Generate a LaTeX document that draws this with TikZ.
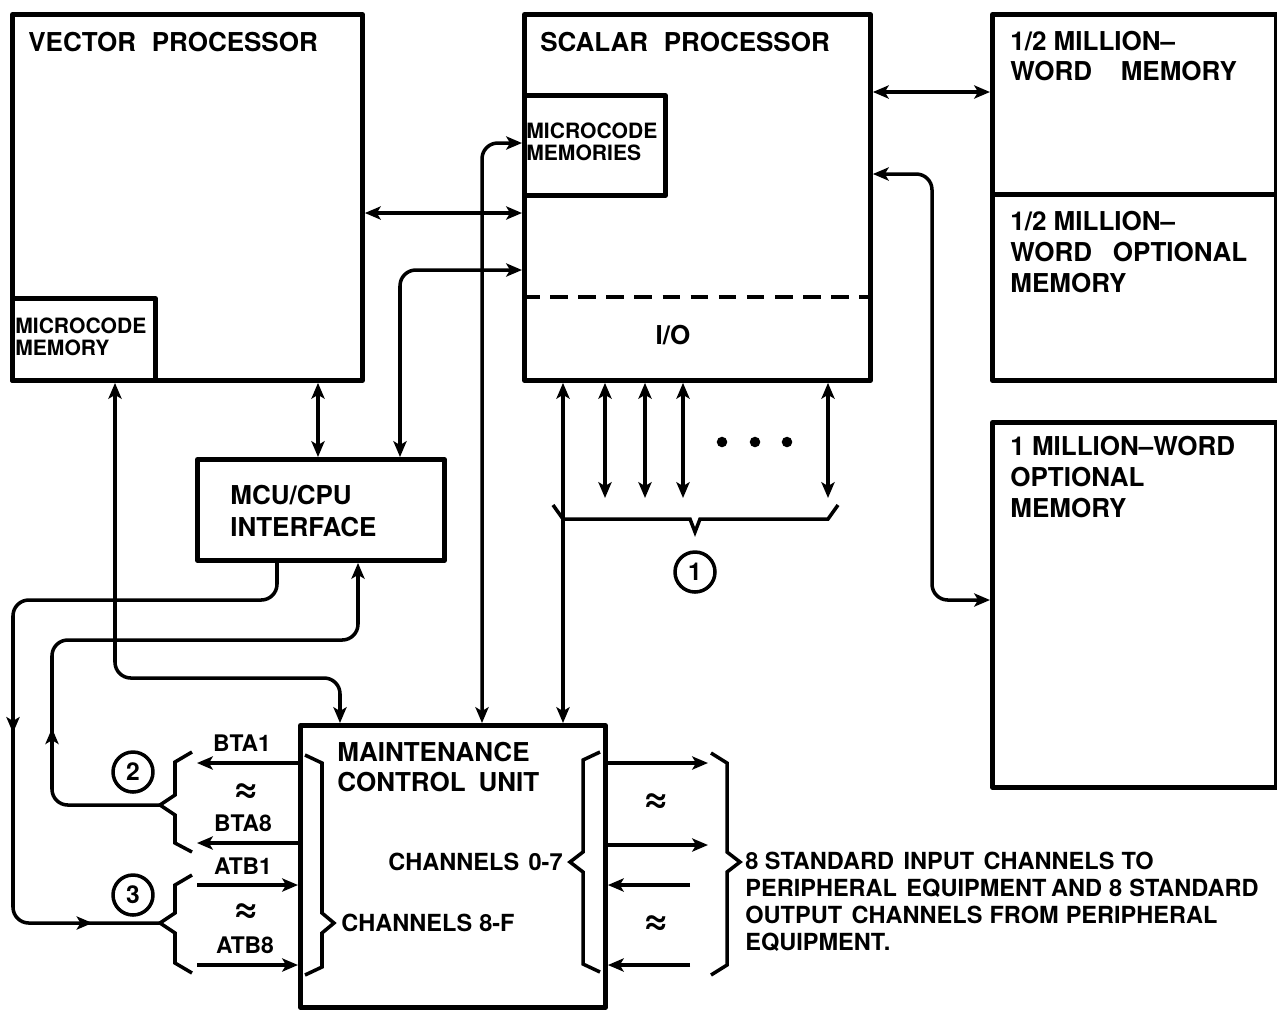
\documentclass[tikz,border=0pt]{standalone}
\usepackage{fontspec}
\setmainfont{TeX Gyre Heros}
\usepackage{tikz}
\usetikzlibrary{arrows.meta,decorations.markings}

\begin{document}
\begin{tikzpicture}[x=0.02cm,y=-0.02cm,>={Stealth[length=9pt,width=7.5pt,inset=2.2pt]},line join=round]
\tikzset{box/.style={draw,line width=2.8pt,anchor=north west,inner sep=0pt},
  big/.style={font=\fontsize{14.8}{17.5}\selectfont\bfseries,align=left,inner sep=0pt},
  small/.style={font=\fontsize{12}{12.5}\selectfont\bfseries,align=left,inner sep=0pt},
  chan/.style={font=\fontsize{13.4}{15.3}\selectfont\bfseries,align=left,inner sep=0pt},
  sig/.style={font=\fontsize{13}{15}\selectfont\bfseries,inner sep=0pt},
  apx/.style={font=\fontsize{24}{24}\selectfont\bfseries,inner sep=0pt},
  wire/.style={line width=2pt},
  brc/.style={line width=2pt,line join=miter},
  num/.style={draw,circle,line width=2pt,minimum size=0.8cm,inner sep=0pt,font=\fontsize{14}{15}\selectfont\bfseries},
  midarr/.style={postaction={decorate,decoration={markings,mark=at position #1 with {\arrow{>}}}}}}
\useasboundingbox (0,0) rectangle (1277,1009);

% processors and memories
\node[box,minimum width=7cm,minimum height=7.32cm] (vp) at (10,12) {};
\node[box,minimum width=2.86cm,minimum height=1.64cm] (vpmc) at (10,296) {};
\node[box,minimum width=6.92cm,minimum height=7.32cm] (sp) at (522,12) {};
\node[box,minimum width=2.82cm,minimum height=2cm] (spmc) at (522,93) {};
\node[box,minimum width=5.68cm,minimum height=3.6cm] (memA) at (990,12) {};
\node[box,minimum width=5.68cm,minimum height=3.72cm] (memB) at (990,192) {};
\node[box,minimum width=5.68cm,minimum height=7.3cm] (memC) at (990,420) {};
\node[box,minimum width=4.94cm,minimum height=2.02cm] (ifc) at (195,457) {};
\node[box,minimum width=6.1cm,minimum height=5.64cm] (mcu) at (298,723) {};
\draw[line width=2pt,dash pattern=on 10pt off 6pt] (sp.west |- 0,297) -- (sp.east |- 0,297);

% texts
\node[big,anchor=west] (vpt) at (28,42) {VECTOR\hspace{0.6em}PROCESSOR};
\node[small,anchor=west] (vpmct) at (15,337) {MICROCODE\\MEMORY};
\node[big,anchor=west] (spt) at (540,42) {SCALAR\hspace{0.6em}PROCESSOR};
\node[small,anchor=west] (spmct) at (526,142) {MICROCODE\\MEMORIES};
\node[big] (iot) at (673,335) {I/O};
\node[big,anchor=west] (memAt) at (1010,56) {1/2 MILLION--\\WORD\hspace{1.1em}MEMORY};
\node[big,anchor=west] (memBt) at (1010,252) {1/2 MILLION--\\WORD\hspace{0.8em}OPTIONAL\\MEMORY};
\node[big,anchor=west] (memCt) at (1010,477) {1 MILLION--WORD\\OPTIONAL\\MEMORY};
\node[big,anchor=west,font=\fontsize{14.8}{18}\selectfont\bfseries] (ifct) at (230,511) {MCU/CPU\\ INTERFACE};
\node[big,anchor=west,font=\fontsize{14.8}{17}\selectfont\bfseries] (mcut) at (337,767) {MAINTENANCE\\CONTROL\hspace{0.5em}UNIT};
\node[chan,anchor=east] (ch07) at (563,862) {CHANNELS\hspace{0.4em}0-7};
\node[chan,anchor=west] (ch8f) at (341,923) {CHANNELS\hspace{0.3em}8-F};
\node[chan,anchor=west] (note) at (745,902)
  {8 STANDARD\hspace{0.4em}INPUT\hspace{0.4em}CHANNELS\hspace{0.3em}TO\\PERIPHERAL\hspace{0.4em}EQUIPMENT\hspace{0.2em}AND\hspace{0.3em}8\hspace{0.3em}STANDARD\\OUTPUT\hspace{0.4em}CHANNELS\hspace{0.3em}FROM\hspace{0.3em}PERIPHERAL\\EQUIPMENT.};
\node[sig] (bta1) at (242,743) {BTA1};
\node[apx] (apx1) at (245,793) {≈};
\node[sig] (bta8) at (243,823) {BTA8};
\node[sig] (atb1) at (243,866) {ATB1};
\node[apx] (apx2) at (245,913) {≈};
\node[sig] (atb8) at (245,945) {ATB8};
\node[apx] (apx3) at (655,803) {≈};
\node[apx] (apx4) at (655,925) {≈};
\node[num] (n1) at (695,572) {1};
\node[num] (n2) at (133,772) {2};
\node[num] (n3) at (133,895) {3};

% buses
\draw[wire,<->] (vp.east |- 0,213) -- (sp.west |- 0,213);
\draw[wire,<->] (sp.east |- 0,92) -- (memA.west |- 0,92);
\draw[wire,<->,rounded corners=9pt] (sp.east |- 0,174) -| (932,600) -- (memC.west |- 0,600);
\draw[wire,<->] (vp.south -| 318,0) -- (ifc.north -| 318,0);
\draw[wire,<->,rounded corners=9pt] (ifc.north -| 400,0) |- (sp.west |- 0,270);
\draw[wire,<->,rounded corners=9pt] (mcu.north -| 482,0) |- (spmc.west |- 0,143);
\draw[wire,<->] (sp.south -| 563,0) -- (mcu.north -| 563,0);
\draw[wire,<->,rounded corners=9pt] (vpmc.south -| 115,0) |- (340,678) -- (mcu.north -| 340,0);

% i/o channels of the scalar processor
\foreach \x in {605,645,683,828} \draw[wire,<->] (sp.south -| \x,0) -- (\x,498);
\foreach \x in {722,755,787} \fill (\x,442) circle (3pt);
\draw[brc] (553,505) -- (563,519) -- (690,519) -- (695,532) -- (700,519) -- (828,519) -- (838,505);

% channel braces
\draw[brc] (192,752) -- (175,762) -- (175,795) -- (160,805) -- (175,815) -- (175,843) -- (192,852);
\coordinate (b2) at (160,805);
\draw[brc] (192,875) -- (175,885) -- (175,913) -- (160,923) -- (175,933) -- (175,963) -- (192,973);
\coordinate (b3) at (160,923);
\draw[brc] (305,755) -- (322,763) -- (322,913) -- (334,923) -- (322,933) -- (322,967) -- (305,975);
\draw[brc] (600,752) -- (583,760) -- (583,852) -- (570,862) -- (583,872) -- (583,964) -- (600,972);
\draw[brc] (711,753) -- (727,763) -- (727,852) -- (740,862) -- (727,872) -- (727,965) -- (711,975);

% channel lines
\draw[wire,->] (mcu.west |- 0,763) -- (197,763);
\draw[wire,->] (mcu.west |- 0,843) -- (197,843);
\draw[wire,->] (197,885) -- (mcu.west |- 0,885);
\draw[wire,->] (197,965) -- (mcu.west |- 0,965);
\draw[wire,->] (mcu.east |- 0,763) -- (708,763);
\draw[wire,->] (mcu.east |- 0,845) -- (708,845);
\draw[wire,->] (690,885) -- (mcu.east |- 0,885);
\draw[wire,->] (690,965) -- (mcu.east |- 0,965);

% loops through the interface
\draw[wire,rounded corners=9pt,midarr=0.56,midarr=0.91] (ifc.south -| 277,0) |- (13,600) |- (b3);
\draw[wire,->,rounded corners=9pt,midarr=0.28] (b2) -| (52,640) -| (ifc.south -| 358,0);
\end{tikzpicture}
\end{document}
